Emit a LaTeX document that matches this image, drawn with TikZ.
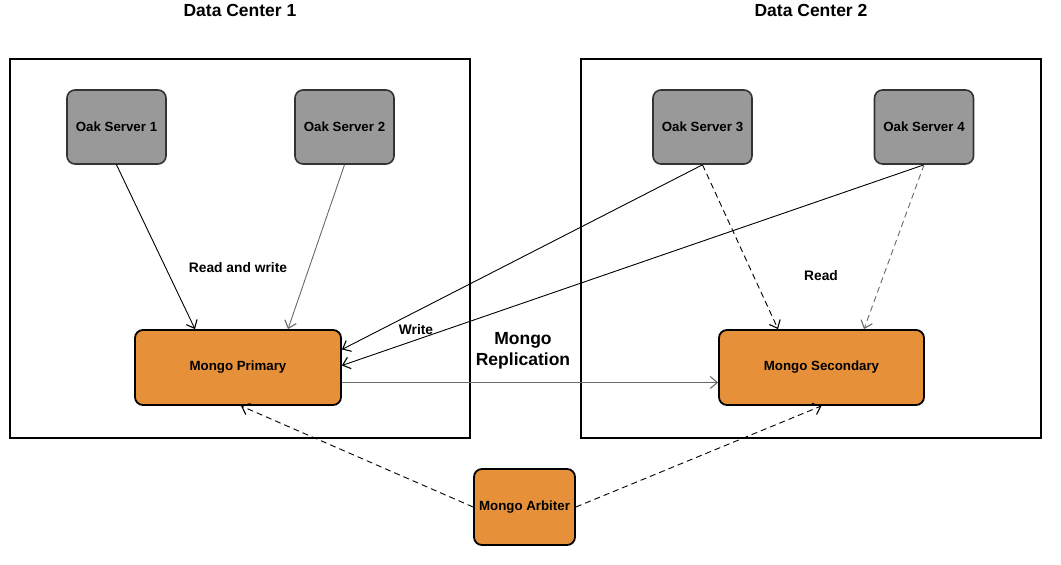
\documentclass[tikz,border=0pt]{standalone}
\usepackage{fontspec}
\setmainfont{Liberation Sans}
\usetikzlibrary{arrows.meta}
\definecolor{oakgray}{RGB}{153,153,153}
\definecolor{mongoorange}{RGB}{230,145,58}
\definecolor{linegray}{RGB}{105,105,105}
\begin{document}
\begin{tikzpicture}[x=1pt,y=-1pt,
  dcbox/.style={draw=black,line width=1.5pt},
  oak/.style={draw=black!80,line width=1.6pt,fill=oakgray,rounded corners=8pt,minimum width=99pt,minimum height=74pt,inner sep=0pt,font=\fontsize{13.3}{15}\selectfont\bfseries},
  mongo/.style={draw=black,line width=1.8pt,fill=mongoorange,rounded corners=8pt,inner sep=0pt,font=\fontsize{13.3}{15}\selectfont\bfseries},
  title/.style={font=\fontsize{17.5}{21}\selectfont\bfseries,inner sep=0pt},
  lbl/.style={font=\fontsize{13.8}{15}\selectfont\bfseries,inner sep=0pt},
  conn/.style={line width=0.9pt,-{Straight Barb[length=7pt,width=12pt,line width=1.1pt]}},
  dsh/.style={conn,dash pattern=on 6pt off 4pt}
]
\useasboundingbox (0,0) rectangle (1061,565);
\fill[white] (0,0) rectangle (1061,565);
% data center frames
\draw[dcbox] (10,59) rectangle (470,438);
\draw[dcbox] (581,59) rectangle (1041,438);
\node[title] (t1) at (240,10) {Data Center 1};
\node[title] (t2) at (811,10) {Data Center 2};
% oak servers
\node[oak] (o1) at (116.5,127) {Oak Server 1};
\node[oak] (o2) at (344.5,127) {Oak Server 2};
\node[oak] (o3) at (702.5,127) {Oak Server 3};
\node[oak] (o4) at (924,127) {Oak Server 4};
% mongo
\node[mongo,minimum width=206pt,minimum height=75pt] (p) at (238,367.5) {Mongo Primary};
\node[mongo,minimum width=205pt,minimum height=75pt] (s) at (821.5,367.5) {Mongo Secondary};
\node[mongo,minimum width=101pt,minimum height=76pt] (a) at (524.5,507) {Mongo Arbiter};
% labels
\node[lbl] (l1) at (238,268) {Read and write};
\node[lbl] (l2) at (416,330) {Write};
\node[lbl] (l3) at (821,276) {Read};
\node[title,align=center,font=\fontsize{17.5}{20.5}\selectfont\bfseries] (l4) at (523,351) {Mongo\\Replication};
% connectors
\draw[conn] (o1.south) -- ([xshift=-43pt]p.north);
\draw[conn,draw=linegray] (o2.south) -- ([xshift=50pt]p.north);
\draw[conn] (o3.south) -- ([yshift=18pt]p.east);
\draw[conn] (o4.south) -- ([yshift=2pt]p.east);
\draw[dsh] (o3.south) -- ([xshift=-43.5pt]s.north);
\draw[dsh,draw=linegray] (o4.south) -- ([xshift=42.5pt]s.north);
\draw[conn,draw=linegray,line width=1.2pt] ([yshift=-15pt]p.east) -- ([yshift=-15pt]s.west);
\draw[dsh] (a.west) -- ([xshift=3pt]p.south);
\draw[dsh] (a.east) -- (s.south);
\end{tikzpicture}
\end{document}
